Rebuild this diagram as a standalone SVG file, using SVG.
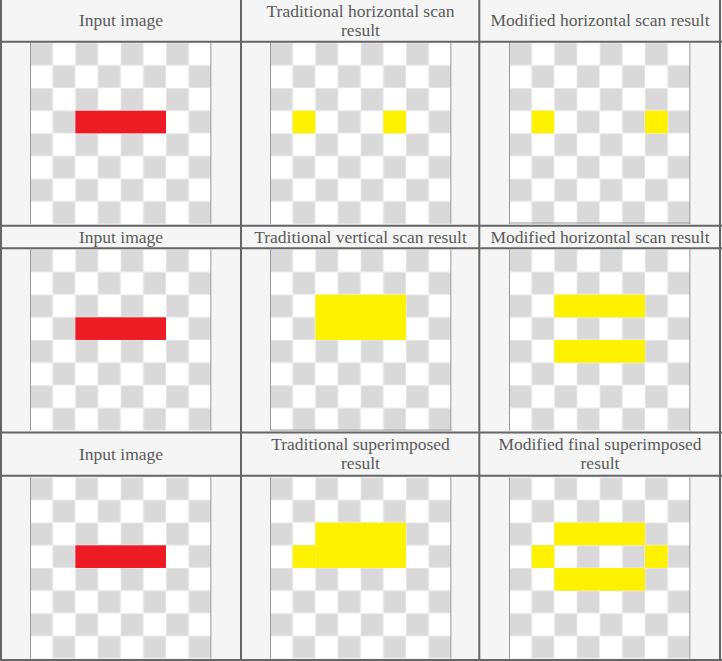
<svg xmlns="http://www.w3.org/2000/svg" xmlns:xlink="http://www.w3.org/1999/xlink" width="722" height="661" viewBox="0 0 722 661">
<style>
.hdr{font-family:"Liberation Serif","Times New Roman",serif;font-size:17.5px;fill:#5a5a5a;text-anchor:middle}
.grid{stroke:#666;stroke-width:2;fill:none}
.red{fill:#ed1c24}
.yel{fill:#fff200}
.edge{stroke:#9a9a9a;stroke-width:1;fill:none}
</style>
<defs>
<pattern id="chk" patternUnits="userSpaceOnUse" width="45.333" height="45.333">
<rect width="45.333" height="45.333" fill="#ffffff"/>
<rect x="0" y="0" width="22.667" height="22.667" fill="#d9d9d9" stroke="#ededed" stroke-width="1"/>
<rect x="22.667" y="22.667" width="22.667" height="22.667" fill="#d9d9d9" stroke="#ededed" stroke-width="1"/>
</pattern>
<g id="board">
<rect width="181.333" height="181.333" fill="url(#chk)"/>
<path class="edge" d="M0.5 0V181.333M180.833 0V181.333"/>
</g>
</defs>
<rect width="722" height="661" fill="#f5f5f5"/>

<g id="cell-r1c1" transform="translate(30,42.7)">
<use xlink:href="#board"/>
<rect class="red" x="45.333" y="68" width="90.667" height="22.667"/>
</g>
<g id="cell-r1c2" transform="translate(270,42.7)">
<use xlink:href="#board"/>
<rect class="yel" x="22.667" y="68" width="22.667" height="22.667"/>
<rect class="yel" x="113.333" y="68" width="22.667" height="22.667"/>
</g>
<g id="cell-r1c3" transform="translate(509,42.7)">
<use xlink:href="#board"/>
<rect class="yel" x="22.667" y="68" width="22.667" height="22.667"/>
<rect class="yel" x="136" y="68" width="22.667" height="22.667"/>
<path class="edge" d="M0 180.3H181.333"/>
</g>

<g id="cell-r2c1" transform="translate(30,249.3)">
<use xlink:href="#board"/>
<rect class="red" x="45.333" y="68" width="90.667" height="22.667"/>
</g>
<g id="cell-r2c2" transform="translate(270,249.3)">
<use xlink:href="#board"/>
<rect class="yel" x="45.333" y="45.333" width="90.667" height="45.333"/>
<path class="edge" d="M0 180.8H181.333"/>
</g>
<g id="cell-r2c3" transform="translate(509,249.3)">
<use xlink:href="#board"/>
<rect class="yel" x="45.333" y="45.333" width="90.667" height="22.667"/>
<rect class="yel" x="45.333" y="90.667" width="90.667" height="22.667"/>
</g>

<g id="cell-r3c1" transform="translate(30,477.3)">
<use xlink:href="#board"/>
<rect class="red" x="45.333" y="68" width="90.667" height="22.667"/>
</g>
<g id="cell-r3c2" transform="translate(270,477.3)">
<use xlink:href="#board"/>
<rect class="yel" x="45.333" y="45.333" width="90.667" height="45.333"/>
<rect class="yel" x="22.667" y="68" width="22.667" height="22.667"/>
</g>
<g id="cell-r3c3" transform="translate(509,477.3)">
<use xlink:href="#board"/>
<rect class="yel" x="45.333" y="45.333" width="90.667" height="22.667"/>
<rect class="yel" x="45.333" y="90.667" width="90.667" height="22.667"/>
<rect class="yel" x="22.667" y="68" width="22.667" height="22.667"/>
<rect class="yel" x="136" y="68" width="22.667" height="22.667"/>
</g>

<g id="table-lines">
<path class="grid" d="M1 0V661M241 0V661M479.3 0V661M720 0V661"/>
<path class="grid" d="M0 41.8H722M0 225.8H722M0 248.3H722M0 432.5H722M0 475.8H722M0 660H722"/>
</g>

<g id="headers">
<text class="hdr" x="121" y="26">Input image</text>
<text class="hdr" x="360.5" y="16.7">Traditional horizontal scan</text>
<text class="hdr" x="360.5" y="35.7">result</text>
<text class="hdr" x="600" y="26">Modified horizontal scan result</text>

<text class="hdr" x="121" y="243.3">Input image</text>
<text class="hdr" x="360.5" y="243.3">Traditional vertical scan result</text>
<text class="hdr" x="600" y="243.3">Modified horizontal scan result</text>

<text class="hdr" x="121" y="460">Input image</text>
<text class="hdr" x="360.5" y="450">Traditional superimposed</text>
<text class="hdr" x="360.5" y="469.3">result</text>
<text class="hdr" x="600" y="450">Modified final superimposed</text>
<text class="hdr" x="600" y="469.3">result</text>
</g>
</svg>
